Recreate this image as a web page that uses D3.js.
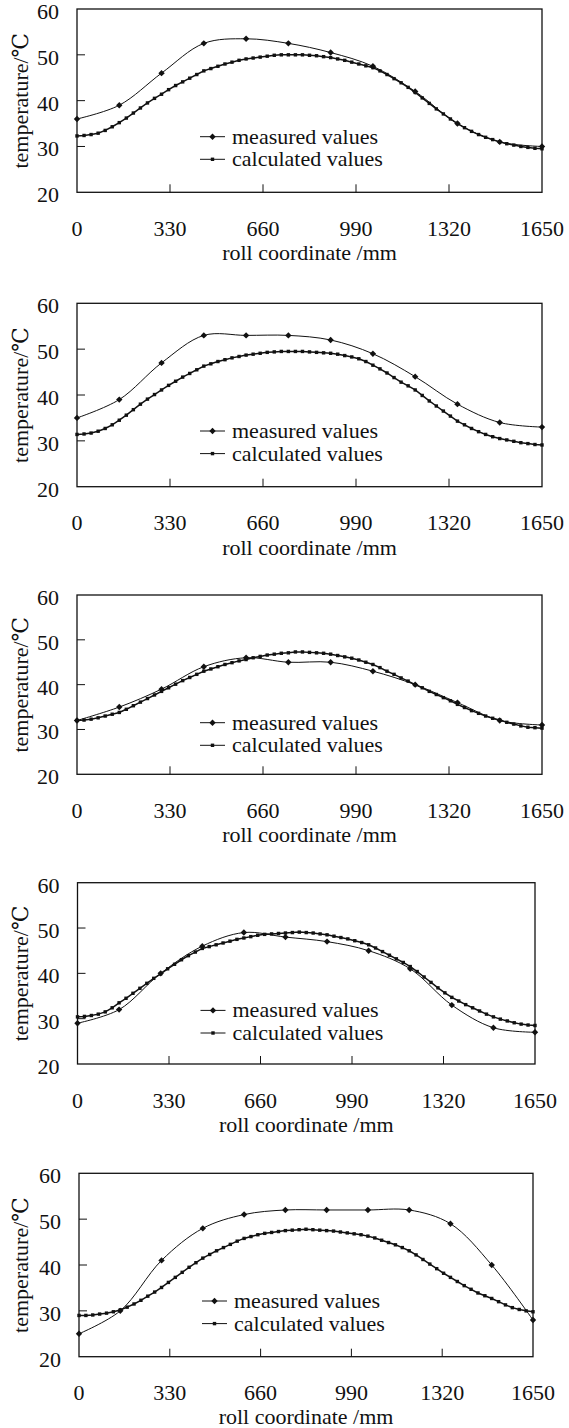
<!DOCTYPE html>
<html>
<head>
<meta charset="utf-8">
<script src="https://cdn.jsdelivr.net/npm/d3@7"></script>
<style>
  body { margin: 0; background: #fff; }
</style>
</head>
<body>
<div id="chart"></div>
<script>
// tick labels
const xTicks = [0, 330, 660, 990, 1320, 1650];
const yTicks = [20, 30, 40, 50, 60];

// measured values, one reading every 150 mm
const xMeasured = [0, 150, 300, 450, 600, 750, 900, 1050, 1200, 1350, 1500, 1650];
const measured1 = [36, 39, 46, 52.5, 53.5, 52.5, 50.5, 47.5, 42, 35, 31, 30];
const measured2 = [35, 39, 47, 53, 53, 53, 52, 49, 44, 38, 34, 33];
const measured3 = [32, 35, 39, 44, 46, 45, 45, 43, 40, 36, 32, 31];
const measured4 = [29, 32, 40, 46, 49, 48, 47, 45, 41, 33, 28, 27];
const measured5 = [25, 30, 41, 48, 51, 52, 52, 52, 52, 49, 40, 28];

// calculated values, every 25 mm from 0 to 1650
const xCalculated = d3.range(0, 1651, 25);
const calculated1 = [32.3, 32.4, 32.6, 32.9, 33.5, 34.3, 35.2, 36.2, 37.3, 38.4, 39.5, 40.5, 41.4, 42.4, 43.3, 44.1, 44.9, 45.7, 46.5, 47.0, 47.5, 48.0, 48.4, 48.8, 49.1, 49.3, 49.5, 49.7, 49.9, 50.0, 50.0, 50.0, 50.0, 49.9, 49.8, 49.6, 49.4, 49.1, 48.8, 48.4, 48.0, 47.6, 47.2, 46.5, 45.7, 44.8, 43.9, 42.9, 41.8, 40.6, 39.4, 38.2, 37.1, 36.0, 35.0, 34.1, 33.3, 32.6, 32.0, 31.5, 31.0, 30.6, 30.3, 30.0, 29.8, 29.6, 29.5];
const calculated2 = [31.4, 31.5, 31.7, 32.1, 32.7, 33.5, 34.5, 35.6, 36.8, 38.0, 39.1, 40.1, 41.1, 42.1, 43.0, 43.9, 44.7, 45.5, 46.3, 46.8, 47.3, 47.7, 48.1, 48.4, 48.7, 48.9, 49.1, 49.3, 49.4, 49.5, 49.5, 49.5, 49.5, 49.4, 49.3, 49.2, 49.1, 48.9, 48.6, 48.3, 47.9, 47.3, 46.5, 45.7, 44.8, 43.8, 42.8, 42.0, 41.1, 39.9, 38.7, 37.6, 36.5, 35.4, 34.3, 33.5, 32.7, 32.0, 31.4, 30.9, 30.5, 30.2, 29.9, 29.6, 29.4, 29.2, 29.1];
const calculated3 = [32.0, 32.1, 32.3, 32.6, 33.0, 33.4, 33.8, 34.5, 35.3, 36.1, 36.9, 37.7, 38.5, 39.3, 40.1, 40.9, 41.6, 42.3, 43.0, 43.5, 44.0, 44.5, 44.9, 45.3, 45.6, 46.0, 46.3, 46.6, 46.8, 47.0, 47.1, 47.3, 47.3, 47.2, 47.1, 47.0, 46.8, 46.5, 46.2, 45.9, 45.5, 45.0, 44.5, 43.8, 43.0, 42.3, 41.5, 40.8, 40.0, 39.3, 38.5, 37.8, 37.1, 36.4, 35.6, 34.9, 34.2, 33.6, 33.0, 32.5, 32.1, 31.6, 31.2, 30.8, 30.5, 30.4, 30.3];
const calculated4 = [30.4, 30.5, 30.7, 31.0, 31.5, 32.4, 33.5, 34.5, 35.6, 36.7, 37.8, 38.9, 39.9, 41.0, 42.0, 43.0, 43.9, 44.7, 45.5, 45.9, 46.3, 46.7, 47.1, 47.5, 47.8, 48.1, 48.4, 48.6, 48.7, 48.8, 48.9, 49.0, 49.1, 49.0, 48.9, 48.7, 48.5, 48.2, 47.9, 47.6, 47.2, 46.8, 46.3, 45.6, 44.8, 44.0, 43.2, 42.4, 41.5, 40.4, 39.2, 38.0, 36.8, 35.7, 34.7, 33.9, 33.1, 32.4, 31.7, 31.0, 30.4, 29.9, 29.5, 29.1, 28.8, 28.6, 28.5];
const calculated5 = [29.0, 29.0, 29.1, 29.3, 29.5, 29.8, 30.2, 30.8, 31.5, 32.3, 33.2, 34.1, 35.1, 36.2, 37.3, 38.4, 39.5, 40.5, 41.5, 42.3, 43.1, 43.8, 44.5, 45.2, 45.8, 46.2, 46.6, 46.9, 47.1, 47.3, 47.5, 47.6, 47.7, 47.8, 47.7, 47.6, 47.5, 47.4, 47.2, 47.0, 46.8, 46.6, 46.3, 45.9, 45.4, 44.9, 44.4, 43.8, 43.1, 42.2, 41.2, 40.2, 39.2, 38.2, 37.3, 36.4, 35.5, 34.7, 33.9, 33.3, 32.7, 32.0, 31.3, 30.7, 30.3, 30.0, 29.8];

const measuredSets = [measured1, measured2, measured3, measured4, measured5];
const calculatedSets = [calculated1, calculated2, calculated3, calculated4, calculated5];

// where each panel's plot box sits on the page
const boxes = [
    { top: 9, bottom: 192.3, left: 77, right: 542 },
    { top: 303.3, bottom: 486.7, left: 77, right: 542 },
    { top: 595, bottom: 774.3, left: 77, right: 542 },
    { top: 882.7, bottom: 1064, left: 77.5, right: 535 },
    { top: 1173.3, bottom: 1356.7, left: 79, right: 533 }
];

const W = 569, H = 1428;
const fontSize = "22px";
const serif = "'Liberation Serif', 'Times New Roman', Times, 'DejaVu Serif', serif";
const sq = 3.4;

const svg = d3.select("#chart")
    .append("svg")
    .attr("width", W)
    .attr("height", H)
    .attr("viewBox", `0 0 ${W} ${H}`)
    .attr("font-family", serif);

svg.append("rect").attr("width", W).attr("height", H).attr("fill", "#fff");

const diamond = d3.symbol().type(d3.symbolDiamond2).size(26);

boxes.forEach((b, i) => {
    const x = d3.scaleLinear().domain([0, 1650]).range([b.left, b.right]);
    const y = d3.scaleLinear().domain([20, 60]).range([b.bottom, b.top]);
    const g = svg.append("g");

    // the last title sits right on the page edge, so squeeze it up a little
    const titleY = Math.min(b.bottom + 68, H - 4);
    const tickY = Math.min(b.bottom + 45, titleY - 24.5);

    // frame
    g.append("rect")
        .attr("x", b.left).attr("y", b.top)
        .attr("width", b.right - b.left).attr("height", b.bottom - b.top)
        .attr("fill", "none").attr("stroke", "#111").attr("stroke-width", 1.3);

    // inside ticks
    g.selectAll(".xt").data(xTicks.slice(1, -1)).enter().append("line")
        .attr("x1", d => x(d)).attr("x2", d => x(d))
        .attr("y1", b.bottom).attr("y2", b.bottom - 8)
        .attr("stroke", "#111").attr("stroke-width", 1);
    g.selectAll(".yt").data(yTicks.slice(1, -1)).enter().append("line")
        .attr("x1", b.left).attr("x2", b.left + 8)
        .attr("y1", d => y(d)).attr("y2", d => y(d))
        .attr("stroke", "#111").attr("stroke-width", 1);

    // tick labels
    g.selectAll(".xl").data(xTicks).enter().append("text")
        .attr("x", d => x(d)).attr("y", tickY)
        .attr("text-anchor", "middle")
        .attr("font-family", serif).attr("font-size", fontSize).attr("fill", "#111")
        .text(d => d);
    g.selectAll(".yl").data(yTicks).enter().append("text")
        .attr("x", b.left - 18).attr("y", d => y(d) + 10)
        .attr("text-anchor", "end")
        .attr("font-family", serif).attr("font-size", fontSize).attr("fill", "#111")
        .text(d => d);

    // axis titles
    g.append("text")
        .attr("x", (b.left + b.right) / 2).attr("y", titleY)
        .attr("text-anchor", "middle")
        .attr("font-family", serif).attr("font-size", fontSize).attr("fill", "#111")
        .text("roll coordinate /mm");
    g.append("text")
        .attr("transform", `translate(28,${(b.top + b.bottom) / 2}) rotate(-90)`)
        .attr("text-anchor", "middle")
        .attr("font-family", serif).attr("font-size", fontSize).attr("fill", "#111")
        .text("temperature/℃");

    // calculated series
    const calc = xCalculated.map((v, k) => ({ x: v, t: calculatedSets[i][k] }));
    g.append("path")
        .datum(calc)
        .attr("fill", "none").attr("stroke", "#111").attr("stroke-width", 1.5)
        .attr("d", d3.line().x(d => x(d.x)).y(d => y(d.t)));
    g.selectAll(".sq").data(calc).enter().append("rect")
        .attr("x", d => x(d.x) - sq / 2).attr("y", d => y(d.t) - sq / 2)
        .attr("width", sq).attr("height", sq).attr("fill", "#111");

    // measured series
    const meas = xMeasured.map((v, k) => ({ x: v, t: measuredSets[i][k] }));
    g.append("path")
        .datum(meas)
        .attr("fill", "none").attr("stroke", "#111").attr("stroke-width", 1)
        .attr("d", d3.line().x(d => x(d.x)).y(d => y(d.t)).curve(d3.curveCatmullRom.alpha(0.5)));
    g.selectAll(".dm").data(meas).enter().append("path")
        .attr("transform", d => `translate(${x(d.x)},${y(d.t)})`)
        .attr("d", diamond).attr("fill", "#111");

    // legend
    const lx = b.left + 123;
    const rows = [
        { label: "measured values", y: b.top + 127.7, mark: "diamond" },
        { label: "calculated values", y: b.top + 150.3, mark: "square" }
    ];
    rows.forEach(r => {
        g.append("line")
            .attr("x1", lx).attr("x2", lx + 25)
            .attr("y1", r.y).attr("y2", r.y)
            .attr("stroke", "#111").attr("stroke-width", 1);
        if (r.mark === "diamond") {
            g.append("path")
                .attr("transform", `translate(${lx + 12.5},${r.y})`)
                .attr("d", diamond).attr("fill", "#111");
        } else {
            g.append("rect")
                .attr("x", lx + 12.5 - sq / 2).attr("y", r.y - sq / 2)
                .attr("width", sq).attr("height", sq).attr("fill", "#111");
        }
        g.append("text")
            .attr("x", lx + 32).attr("y", r.y + 7)
            .attr("font-family", serif).attr("font-size", fontSize).attr("fill", "#111")
            .text(r.label);
    });
});
</script>
</body>
</html>
